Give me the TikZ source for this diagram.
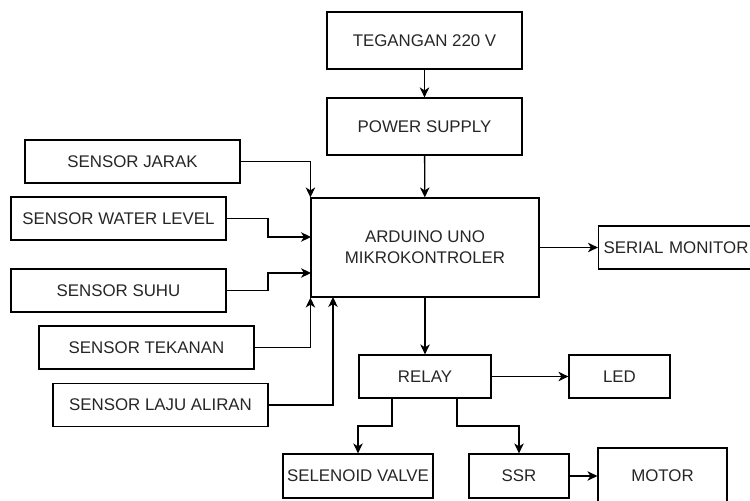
\documentclass[tikz,border=0pt]{standalone}
\usepackage{fontspec}
\setmainfont{Liberation Sans}
\usetikzlibrary{arrows.meta}
\begin{document}
\begin{tikzpicture}[x=0.02cm, y=-0.02cm]
\tikzstyle{blok}=[shape=rectangle, draw, line width=0.7pt, text=black!85, inner sep=0pt, font=\fontsize{9.6}{12}\selectfont, align=center]
\tikzstyle{panah}=[line width=0.75pt, -{Stealth[length=2mm, width=1.9mm, inset=0.6mm]}]
\useasboundingbox (0,0) rectangle (750,500);
\clip (0,0) rectangle (750,500);
\node [blok, minimum width=3.9cm, minimum height=1.14cm] (TG) at (424.5, 40.5) {TEGANGAN 220 V};
\node [blok, minimum width=3.9cm, minimum height=1.14cm] (PS) at (424.5, 126.5) {POWER SUPPLY};
\node [blok, minimum width=4.56cm, minimum height=1.98cm] (AU) at (425, 247.5) {ARDUINO UNO\\MIKROKONTROLER};
\node [blok, minimum width=3.3cm, minimum height=0.86cm, text width=3.1cm, align=left] (SM) at (681, 247.5) {SERIAL MONITOR};
\node [blok, minimum width=4.3cm, minimum height=0.86cm] (SJ) at (132.5, 161.5) {SENSOR JARAK};
\node [blok, minimum width=4.3cm, minimum height=0.86cm] (SW) at (118.5, 218.5) {SENSOR WATER LEVEL};
\node [blok, minimum width=4.3cm, minimum height=0.86cm] (SS) at (118.5, 290.5) {SENSOR SUHU};
\node [blok, minimum width=4.3cm, minimum height=0.86cm] (ST) at (146.5, 347.5) {SENSOR TEKANAN};
\node [blok, minimum width=4.3cm, minimum height=0.86cm] (SL) at (160.5, 405) {SENSOR LAJU ALIRAN};
\node [blok, minimum width=2.64cm, minimum height=0.86cm] (RL) at (425, 376.5) {RELAY};
\node [blok, minimum width=2.02cm, minimum height=0.86cm] (LD) at (619.5, 376.5) {LED};
\node [blok, minimum width=3cm, minimum height=0.88cm] (SV) at (358, 476) {SELENOID VALVE};
\node [blok, minimum width=2cm, minimum height=0.88cm] (SR) at (519, 476) {SSR};
\node [blok, minimum width=2.58cm, minimum height=1.12cm] (MT) at (662.5, 476) {MOTOR};
\coordinate (inSW) at (311, 237);
\coordinate (inSS) at (311, 273);
\coordinate (inSL) at (333, 297);
\coordinate (outSV) at (392, 398);
\coordinate (outSR) at (457, 398);
\draw [panah] (TG) to (PS);
\draw [panah] (PS) to (AU);
\draw [panah] (AU) to (SM);
\draw [panah] (SJ.east) -| (AU.north west);
\draw [panah] (SW.east) -| (268, 228) |- (inSW);
\draw [panah] (SS.east) -| (268, 282) |- (inSS);
\draw [panah] (ST.east) -| (AU.south west);
\draw [panah] (SL.east) -| (inSL);
\draw [panah] (AU) to (RL);
\draw [panah] (RL) to (LD);
\draw [panah] (outSV) |- (358, 426) -| (SV.north);
\draw [panah] (outSR) |- (519, 426) -| (SR.north);
\draw [panah] (SR) to (MT);
\end{tikzpicture}
\end{document}
